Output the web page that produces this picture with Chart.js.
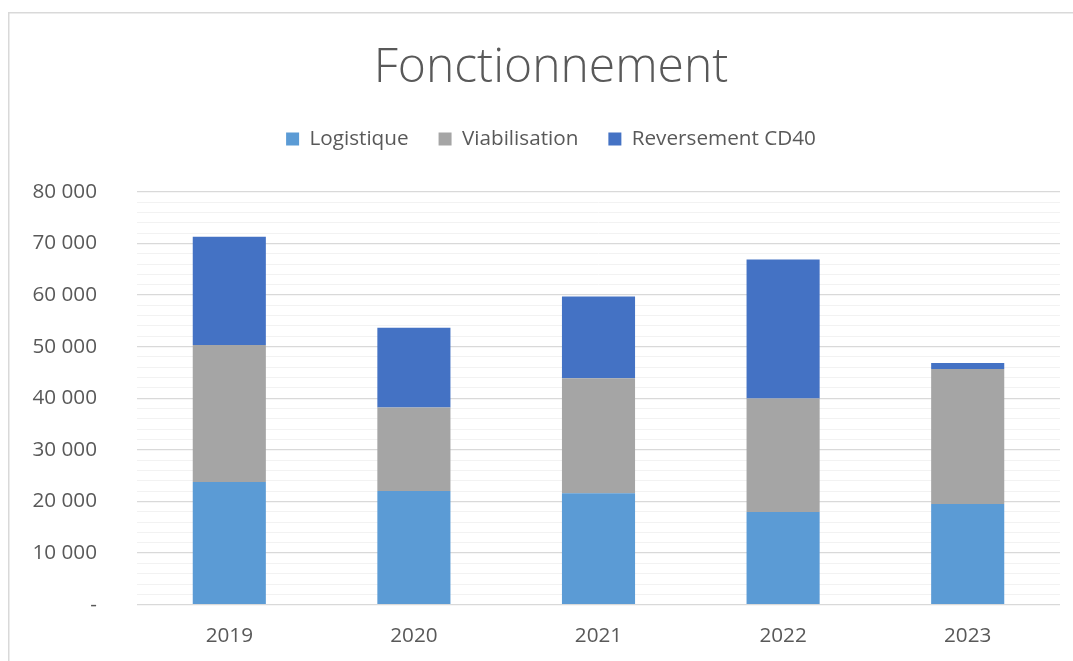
<!DOCTYPE html>
<html><head><meta charset="utf-8">
<script src="https://cdn.jsdelivr.net/npm/chart.js@4"></script>
<style>html,body{margin:0;padding:0;background:#fff;}#wrap{width:1073px;height:661px;position:relative;}</style>
</head><body><div id="wrap"><canvas id="c" width="1073" height="661"></canvas></div>
<script>
const years = ["2019","2020","2021","2022","2023"];
const logistique = [23750, 22000, 21570, 17960, 19500];
const viabilisation = [26550, 16200, 22280, 21970, 26170];
const reversementCD40 = [21000, 15450, 15850, 26970, 1160];
const yTicksMajor = [0, 10000, 20000, 30000, 40000, 50000, 60000, 70000, 80000];

function fmt(v){ if(v===0) return "-"; return String(v).replace(/\B(?=(\d{3})+(?!\d))/g," "); }

const borderPlugin = {
  id:'frame',
  beforeDraw(chart){
    const ctx = chart.ctx; ctx.save();
    ctx.fillStyle='#fff'; ctx.fillRect(0,0,chart.width,chart.height);
    ctx.strokeStyle='#d9d9d9'; ctx.lineWidth=1.5;
    ctx.strokeRect(8.75,12.75,chart.width+20,chart.height+20);
    ctx.restore();
  }
};

const spacerPlugin = {
  id:'legendSpacer',
  beforeInit(chart){
    if (!Chart.layouts) return;
    const box = {
      position:'top', weight:500, fullSize:true, options:{},
      left:0, top:0, right:0, bottom:0, width:0, height:0,
      isHorizontal(){ return true; },
      update(maxWidth){ this.width = maxWidth; this.height = 32.5; },
      draw(){}
    };
    Chart.layouts.addBox(chart, box);
  }
};

const FONT = "'Open Sans', 'Noto Sans', sans-serif";
const FS = 20.7;
new Chart(document.getElementById('c'), {
  type:'bar',
  data:{
    labels: years,
    datasets:[
      {label:'Logistique', data:logistique, backgroundColor:'#5B9BD5'},
      {label:'Viabilisation', data:viabilisation, backgroundColor:'#A5A5A5'},
      {label:'Reversement CD40', data:reversementCD40, backgroundColor:'#4472C4'}
    ]
  },
  options:{
    responsive:false, animation:false, devicePixelRatio:1,
    layout:{padding:{left:42,right:13,top:0,bottom:0.5}},
    datasets:{bar:{categoryPercentage:1, barPercentage:0.396}},
    plugins:{
      title:{display:true, text:'Fonctionnement', color:'#595959',
        font:{family:FONT, size:48, weight:'300', lineHeight:1.2}, padding:{top:40,bottom:1}},
      legend:{display:true, position:'top',
        labels:{color:'#595959', font:{family:FONT, size:FS}, boxWidth:13, boxHeight:13, padding:30},
        onClick:null},
      tooltip:{enabled:false}
    },
    scales:{
      x:{stacked:true, grid:{display:false}, border:{display:false},
         ticks:{color:'#595959', font:{family:FONT, size:FS}, padding:11.5}},
      y:{stacked:true, min:0, max:80000,
         afterBuildTicks(scale){ const t=[]; for(let v=0; v<=80000; v+=2000) t.push({value:v}); scale.ticks=t; },
         afterFit(scale){ scale.width=95; scale._computeLabelArea = function(){ return undefined; }; },
         grid:{drawTicks:false,
               color:(c)=> (c.tick && c.tick.value % 10000 === 0) ? '#d9d9d9' : '#f2f2f2',
               lineWidth:(c)=> (c.tick && c.tick.value % 10000 === 0) ? 1.3 : 1},
         border:{display:false},
         ticks:{autoSkip:false, color:'#595959', font:{family:FONT, size:FS}, padding:40,
                callback:(v)=> yTicksMajor.includes(v) ? fmt(v) : ''}}
    }
  },
  plugins:[borderPlugin, spacerPlugin]
});
</script></body></html>
